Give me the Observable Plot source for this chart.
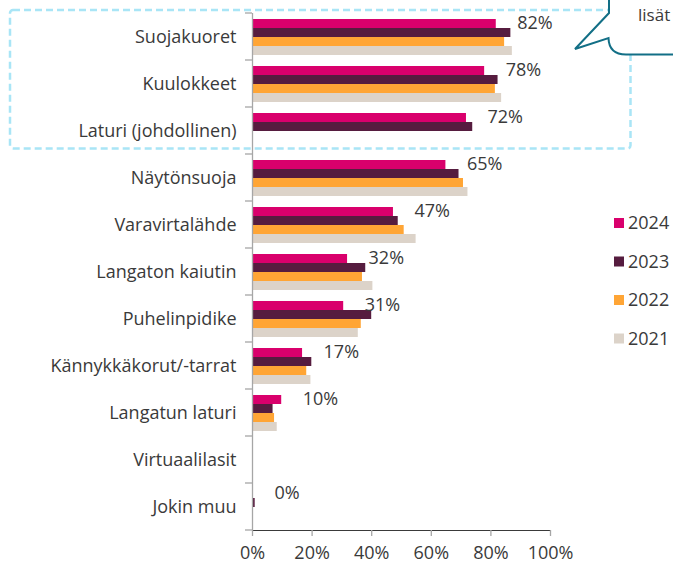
<!DOCTYPE html>
<html>
<head>
<meta charset="utf-8">
<script src="https://cdn.jsdelivr.net/npm/d3@7"></script>
<script src="https://cdn.jsdelivr.net/npm/@observablehq/plot@0.6"></script>
<style>
  html, body { margin: 0; padding: 0; background: #fff; }
  #chart { width: 673px; height: 565px; overflow: hidden; }
</style>
</head>
<body>
<div id="chart"></div>
<script>
const categories = ["Suojakuoret", "Kuulokkeet", "Laturi (johdollinen)", "Näytönsuoja", "Varavirtalähde", "Langaton kaiutin", "Puhelinpidike", "Kännykkäkorut/-tarrat", "Langatun laturi", "Virtuaalilasit", "Jokin muu"];
const years = ["2024", "2023", "2022", "2021"];
const v2024 = [81.8, 77.9, 71.8, 64.9, 47.3, 31.9, 30.6, 16.8, 9.8, 0, 0.3];
const v2023 = [86.7, 82.4, 73.9, 69.3, 48.9, 38.0, 40.0, 19.9, 6.9, 0, 0.9];
const v2022 = [84.6, 81.5, null, 70.8, 50.9, 36.9, 36.5, 18.2, 7.4, 0, 0];
const v2021 = [87.2, 83.6, null, 72.3, 54.9, 40.4, 35.5, 19.6, 8.3, 0, 0.2];
const labels = ["82%", "78%", "72%", "65%", "47%", "32%", "31%", "17%", "10%", null, "0%"];
const colors = ["#d9006c", "#561c3f", "#ffa535", "#dcd3c9"];
const xTicks = [0, 20, 40, 60, 80, 100];
const bubbleText = "lisät";

const series = {"2024": v2024, "2023": v2023, "2022": v2022, "2021": v2021};
const rows = [];
categories.forEach((c, i) => years.forEach(y => {
  const v = series[y][i];
  if (v != null) rows.push({category: c, year: y, value: v});
}));
const labelRows = categories.map((c, i) => ({category: c, year: "2024", value: v2024[i] ?? 0, label: labels[i]})).filter(d => d.label);

const FONT = "'Open Sans', sans-serif";
const TEXT = "#3a3a3a";
const AXIS = "#a6a6a6";

const plot = Plot.plot({
  width: 673,
  height: 565,
  marginLeft: 252,
  marginRight: 123,
  marginTop: 10,
  marginBottom: 33,
  style: {fontFamily: FONT, fontSize: "18px", color: TEXT, background: "white", overflow: "visible"},
  fy: {domain: categories, padding: 0, axis: "left", label: null, tickSize: 0, tickPadding: 16},
  y: {domain: years, axis: null, paddingInner: 0.04, paddingOuter: 0.45},
  x: {domain: [0, 100], ticks: xTicks, tickFormat: d => d + "%", label: null, line: true, tickSize: 6, tickPadding: 10},
  color: {domain: years, range: colors},
  marks: [
    Plot.barX(rows, {fy: "category", y: "year", x: "value", fill: "year"}),
    Plot.ruleX(rows, Plot.groupZ({x: () => 0}, {fy: "category", stroke: AXIS, strokeWidth: 1.3})),
    Plot.text(labelRows, {fy: "category", y: "year", x: "value", text: "label", dx: 21, dy: -1, textAnchor: "start", fill: TEXT, fontSize: 18})
  ]
});

document.getElementById("chart").appendChild(plot);

const svg = d3.select(plot);
// axis styling
svg.selectAll('[aria-label^="x-axis"] path, [aria-label^="x-axis"] line').attr("stroke", AXIS).attr("stroke-width", 1.3);
svg.selectAll('[aria-label^="x-axis"] text').attr("fill", TEXT);

const fy = plot.scale("fy");
const step = fy.step ?? fy.bandwidth;
// category boundary ticks on the y axis
const bounds = categories.map(c => fy.apply(c)).concat([fy.apply(categories[categories.length - 1]) + step]);
svg.append("g").selectAll("line").data(bounds).join("line")
  .attr("x1", 245).attr("x2", 252).attr("y1", d => d).attr("y2", d => d)
  .attr("stroke", AXIS).attr("stroke-width", 1.3);

// highlight box around new categories
const boxTop = fy.apply(categories[0]) - 3;
const boxBottom = fy.apply(categories[2]) + step - 5.5;
svg.append("rect")
  .attr("x", 10).attr("y", boxTop).attr("width", 620.5).attr("height", boxBottom - boxTop)
  .attr("rx", 3).attr("fill", "none").attr("stroke", "#a9e5f6").attr("stroke-width", 2.5)
  .attr("stroke-dasharray", "7 4");

// speech bubble
const bubble = svg.append("g");
bubble.append("path")
  .attr("d", "M609,-5 L609,13 L575,49 L608.5,38 Q609,54.5 626,54.5 L700,54.5 L700,-5 Z")
  .attr("fill", "white").attr("stroke", "#126f86").attr("stroke-width", 2).attr("stroke-linejoin", "miter");
bubble.append("text").attr("x", 638).attr("y", 21).attr("fill", TEXT).attr("text-anchor", "start")
  .style("font-family", FONT).style("font-size", "17px").text(bubbleText);

// legend
const legend = svg.append("g");
const legendY = [223, 261.5, 300, 338.5];
years.forEach((y, i) => {
  legend.append("rect").attr("x", 614).attr("y", legendY[i] - 5).attr("width", 10).attr("height", 10)
    .attr("fill", plot.scale("color").apply(y));
  legend.append("text").attr("x", 628).attr("y", legendY[i]).attr("dy", "0.35em").attr("fill", TEXT)
    .attr("text-anchor", "start")
    .style("font-family", FONT).style("font-size", "18px").text(y);
});
</script>
</body>
</html>
